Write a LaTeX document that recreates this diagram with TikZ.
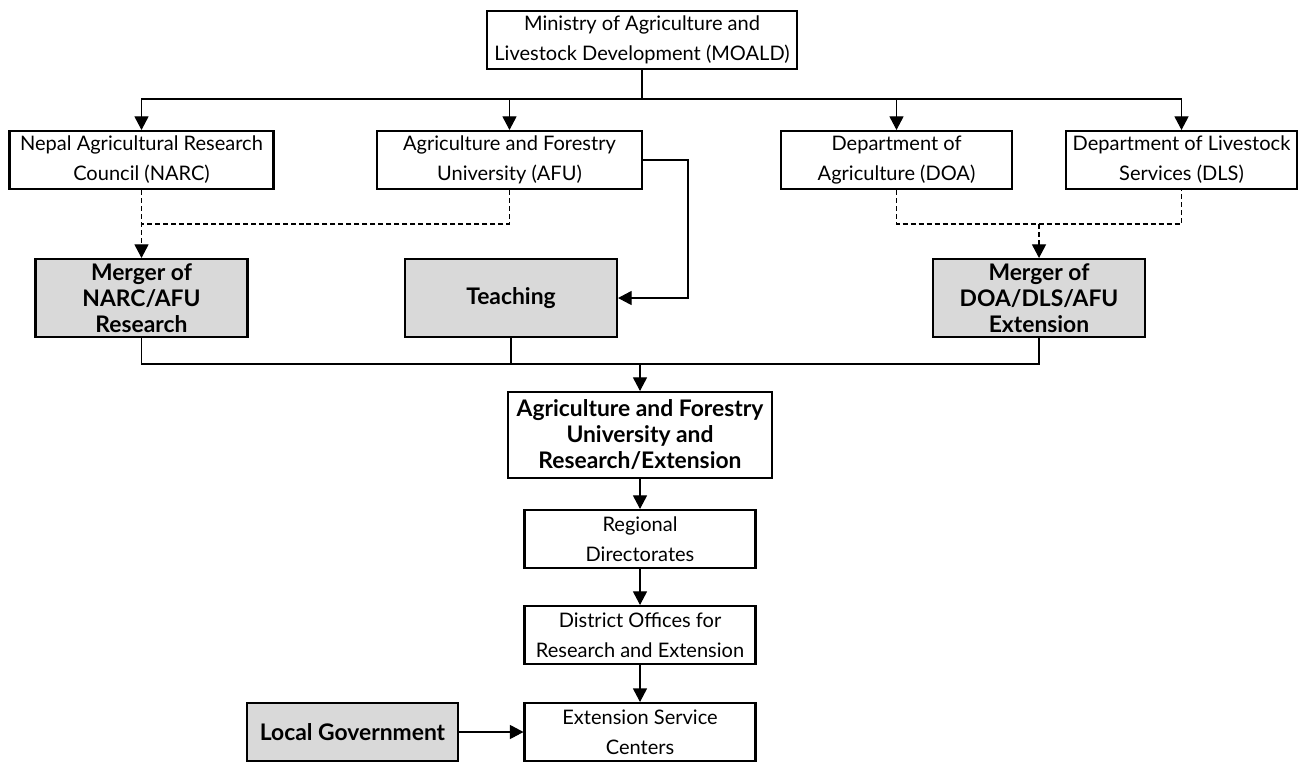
\documentclass[tikz,border=0pt]{standalone}
\usepackage{fontspec}
\setmainfont{Lato}
\usetikzlibrary{arrows.meta}

\begin{document}
\begin{tikzpicture}[x=0.02cm,y=-0.02cm,
	box/.style={draw,line width=1.2pt,align=center,inner sep=0pt,font=\fontsize{11.4}{17}\selectfont},
	unit/.style={box,minimum width=4.62cm,minimum height=1.16cm},
	strong/.style={box,font=\bfseries\fontsize{13}{14.8}\selectfont},
	merged/.style={strong,fill=black!15,minimum width=4.24cm,minimum height=1.56cm},
	link/.style={line width=0.6pt},
	arr/.style={link,-{Triangle[length=0.27cm,width=0.28cm]}},
	dsh/.style={link,dash pattern=on 0.1cm off 0.06cm}]
	
	\useasboundingbox (0,0) rectangle (1300,762);
	
	\node[box,minimum width=6.2cm,minimum height=1.16cm] (moald) at (642,40) {Ministry of Agriculture and\\Livestock Development (MOALD)};
	
	\node[box,minimum width=5.28cm,minimum height=1.16cm] (narc) at (141.5,160) {Nepal Agricultural Research\\Council (NARC)};
	
	\node[box,minimum width=5.3cm,minimum height=1.16cm] (afu) at (509.5,160) {Agriculture and Forestry\\University (AFU)};
	
	\node[unit] (doa) at (896.5,160) {Department of\\Agriculture (DOA)};
	
	\node[unit] (dls) at (1181.5,160) {Department of Livestock\\Services (DLS)};
	
	\node[merged] (resmerge) at (141.5,298) {Merger of\\NARC/AFU\\Research};
	
	\node[merged] (teach) at (511,298) {Teaching};
	
	\node[merged] (extmerge) at (1039,298) {Merger of\\DOA/DLS/AFU\\Extension};
	
	\node[strong,minimum width=5.28cm,minimum height=1.72cm] (afure) at (640,435) {Agriculture and Forestry\\University and\\Research/Extension};
	
	\node[unit] (regdir) at (640,539) {Regional\\Directorates};
	
	\node[unit] (distoff) at (640,635) {District Offices for\\Research and Extension};
	
	\node[unit] (esc) at (640,732) {Extension Service\\Centers};
	
	\node[strong,fill=black!15,minimum width=4.22cm,minimum height=1.16cm] (locgov) at (352.5,732) {Local Government};
	
	\coordinate (bus) at (642,99);
	\coordinate (rjoin) at (141.5,224);
	\coordinate (ejoin) at (1039,224);
	\coordinate (elbow) at (688,160);
	\coordinate (down) at (640,364);
	
	\draw[link] (moald) -- (bus);
	\draw[arr] (bus) -| (narc);
	\draw[arr] (bus) -| (afu);
	\draw[arr] (bus) -| (doa);
	\draw[arr] (bus) -| (dls);
	
	\draw[dsh] (afu) |- (rjoin);
	\draw[dsh,arr] (narc) -- (resmerge);
	\draw[dsh] (doa) |- (ejoin) -| (dls);
	\draw[dsh,arr] (ejoin) -- (extmerge);
	\draw[arr] (afu.east) -- (elbow) |- (teach);
	
	\draw[link] (resmerge) |- (down);
	\draw[link] (extmerge) |- (down);
	\draw[link] (teach) -- (teach |- down);
	\draw[arr] (down) -- (afure);
	\draw[arr] (afure) -- (regdir);
	\draw[arr] (regdir) -- (distoff);
	\draw[arr] (distoff) -- (esc);
	\draw[arr] (locgov) -- (esc);
	
\end{tikzpicture}
\end{document}
